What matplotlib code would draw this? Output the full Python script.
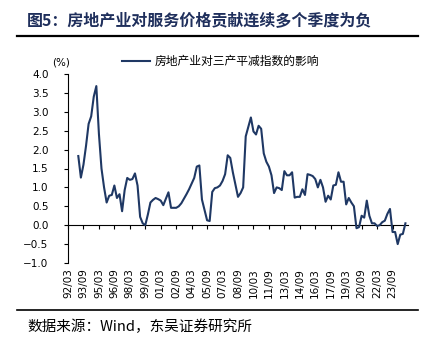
import numpy as np
import pandas as pd
import matplotlib
matplotlib.use("Agg")
import matplotlib.pyplot as plt

plt.rcParams["font.family"] = ["Noto Sans CJK SC", "DejaVu Sans"]

# ---- data: quarterly, 1993Q1 .. 2024Q4 ----
first_quarter = "1993Q1"
last_quarter = "2024Q4"
impact = [
    1.83, 1.26, 1.60, 2.10, 2.68, 2.88, 3.40, 3.68,   # 93-94
    2.42, 1.50, 1.00, 0.60, 0.78, 0.80, 1.05, 0.72,   # 95-96
    0.82, 0.37, 0.93, 1.25, 1.20, 1.22, 1.37, 1.05,   # 97-98
    0.22, 0.05, 0.00, 0.28, 0.60, 0.67, 0.72, 0.69,   # 99-00
    0.65, 0.53, 0.70, 0.87, 0.46, 0.46, 0.46, 0.50,   # 01-02
    0.58, 0.70, 0.82, 0.95, 1.10, 1.25, 1.55, 1.58,   # 03-04
    0.68, 0.40, 0.13, 0.11, 0.88, 0.98, 1.00, 1.05,   # 05-06
    1.17, 1.35, 1.85, 1.78, 1.40, 1.08, 0.75, 0.85,   # 07-08
    1.00, 2.35, 2.60, 2.85, 2.48, 2.40, 2.63, 2.55,   # 09-10
    1.90, 1.68, 1.55, 1.32, 0.85, 1.00, 0.98, 0.93,   # 11-12
    1.43, 1.32, 1.32, 1.40, 0.73, 0.75, 0.75, 0.95,   # 13-14
    0.80, 1.35, 1.33, 1.30, 1.22, 1.00, 1.20, 1.00,   # 15-16
    0.62, 0.78, 0.68, 1.05, 1.07, 1.40, 1.15, 1.15,   # 17-18
    0.55, 0.72, 0.60, 0.50, -0.08, -0.05, 0.25, 0.20, # 19-20
    0.65, 0.25, 0.05, 0.05, -0.02, 0.00, 0.08, 0.12,  # 21-22
    0.30, 0.43, -0.18, -0.18, -0.50, -0.25, -0.23, 0.05,  # 23-24
]
tick_labels = ["92/03", "93/09", "95/03", "96/09", "98/03", "99/09", "01/03",
               "02/09", "04/03", "05/09", "07/03", "08/09", "10/03", "11/09",
               "13/03", "14/09", "16/03", "17/09", "19/03", "20/09", "22/03",
               "23/09"]
y_ticks = [-1.0, -0.5, 0.0, 0.5, 1.0, 1.5, 2.0, 2.5, 3.0, 3.5, 4.0]

# categories start at 92/03 like the source axis
periods = pd.period_range("1992Q1", last_quarter, freq="Q")
cats = [f"{p.year % 100:02d}/{p.quarter * 3:02d}" for p in periods]
series = pd.Series(np.nan, index=periods)
series[pd.Period(first_quarter, "Q"):] = impact

navy = "#1F3864"
title_col = "#1F2F5C"

fig = plt.figure(figsize=(4.29, 3.54), dpi=100)
ax = fig.add_axes([68 / 429, 1 - 263 / 354, (408 - 68) / 429, (263 - 74) / 354])

x = np.arange(len(cats))
ax.plot(x, series.values, color=navy, lw=1.5, solid_joinstyle="round")

ax.set_xlim(0, 132)
ax.set_ylim(-1.0, 4.0)
ax.set_yticks(y_ticks)
ax.set_yticklabels([f"{v:.1f}".replace("-", "\u2212") for v in y_ticks],
                   fontsize=7.5, family="DejaVu Sans")
ax.tick_params(axis="y", direction="out", length=3, width=0.8, pad=11)

# category labels at the bottom, no tick marks
tick_pos = [cats.index(t) for t in tick_labels]
ax.set_xticks(tick_pos)
ax.set_xticklabels(tick_labels, rotation=90, fontsize=7.5, family="DejaVu Sans")
ax.tick_params(axis="x", length=0, pad=4)

for s in ("top", "right", "bottom"):
    ax.spines[s].set_visible(False)
ax.spines["left"].set_linewidth(0.8)

# zero line with hanging ticks
sec = ax.secondary_xaxis(0.2)
sec.set_xticks(tick_pos)
sec.tick_params(axis="x", direction="out", length=3, width=0.8, labelbottom=False)
sec.spines["bottom"].set_linewidth(0.8)

ax.text(-0.02, 1.06, "(%)", transform=ax.transAxes, fontsize=7.5,
        family="DejaVu Sans", ha="center", va="center")

# legend
ax.plot([], [], color=navy, lw=1.5, label="房地产业对三产平减指数的影响")
ax.legend(loc="lower left", bbox_to_anchor=(0.14, 1.0), frameon=False,
          fontsize=8.5, handlelength=2.4, handletextpad=0.4, borderaxespad=0.1)

# header / footer
fig.text(27 / 429, 1 - 20 / 354, "图5：房地产业对服务价格贡献连续多个季度为负",
         fontsize=11.5, fontweight="bold", color=title_col, ha="left", va="center")
fig.add_artist(plt.Line2D([17 / 429, 418 / 429], [1 - 36 / 354] * 2,
                          color="black", lw=1.6))
fig.add_artist(plt.Line2D([17 / 429, 418 / 429], [1 - 310 / 354] * 2,
                          color="black", lw=1.2))
fig.text(27 / 429, 1 - 327 / 354, "数据来源：Wind，东吴证券研究所",
         fontsize=10.5, color="black", ha="left", va="center")

fig.savefig("out.png", dpi=100)
